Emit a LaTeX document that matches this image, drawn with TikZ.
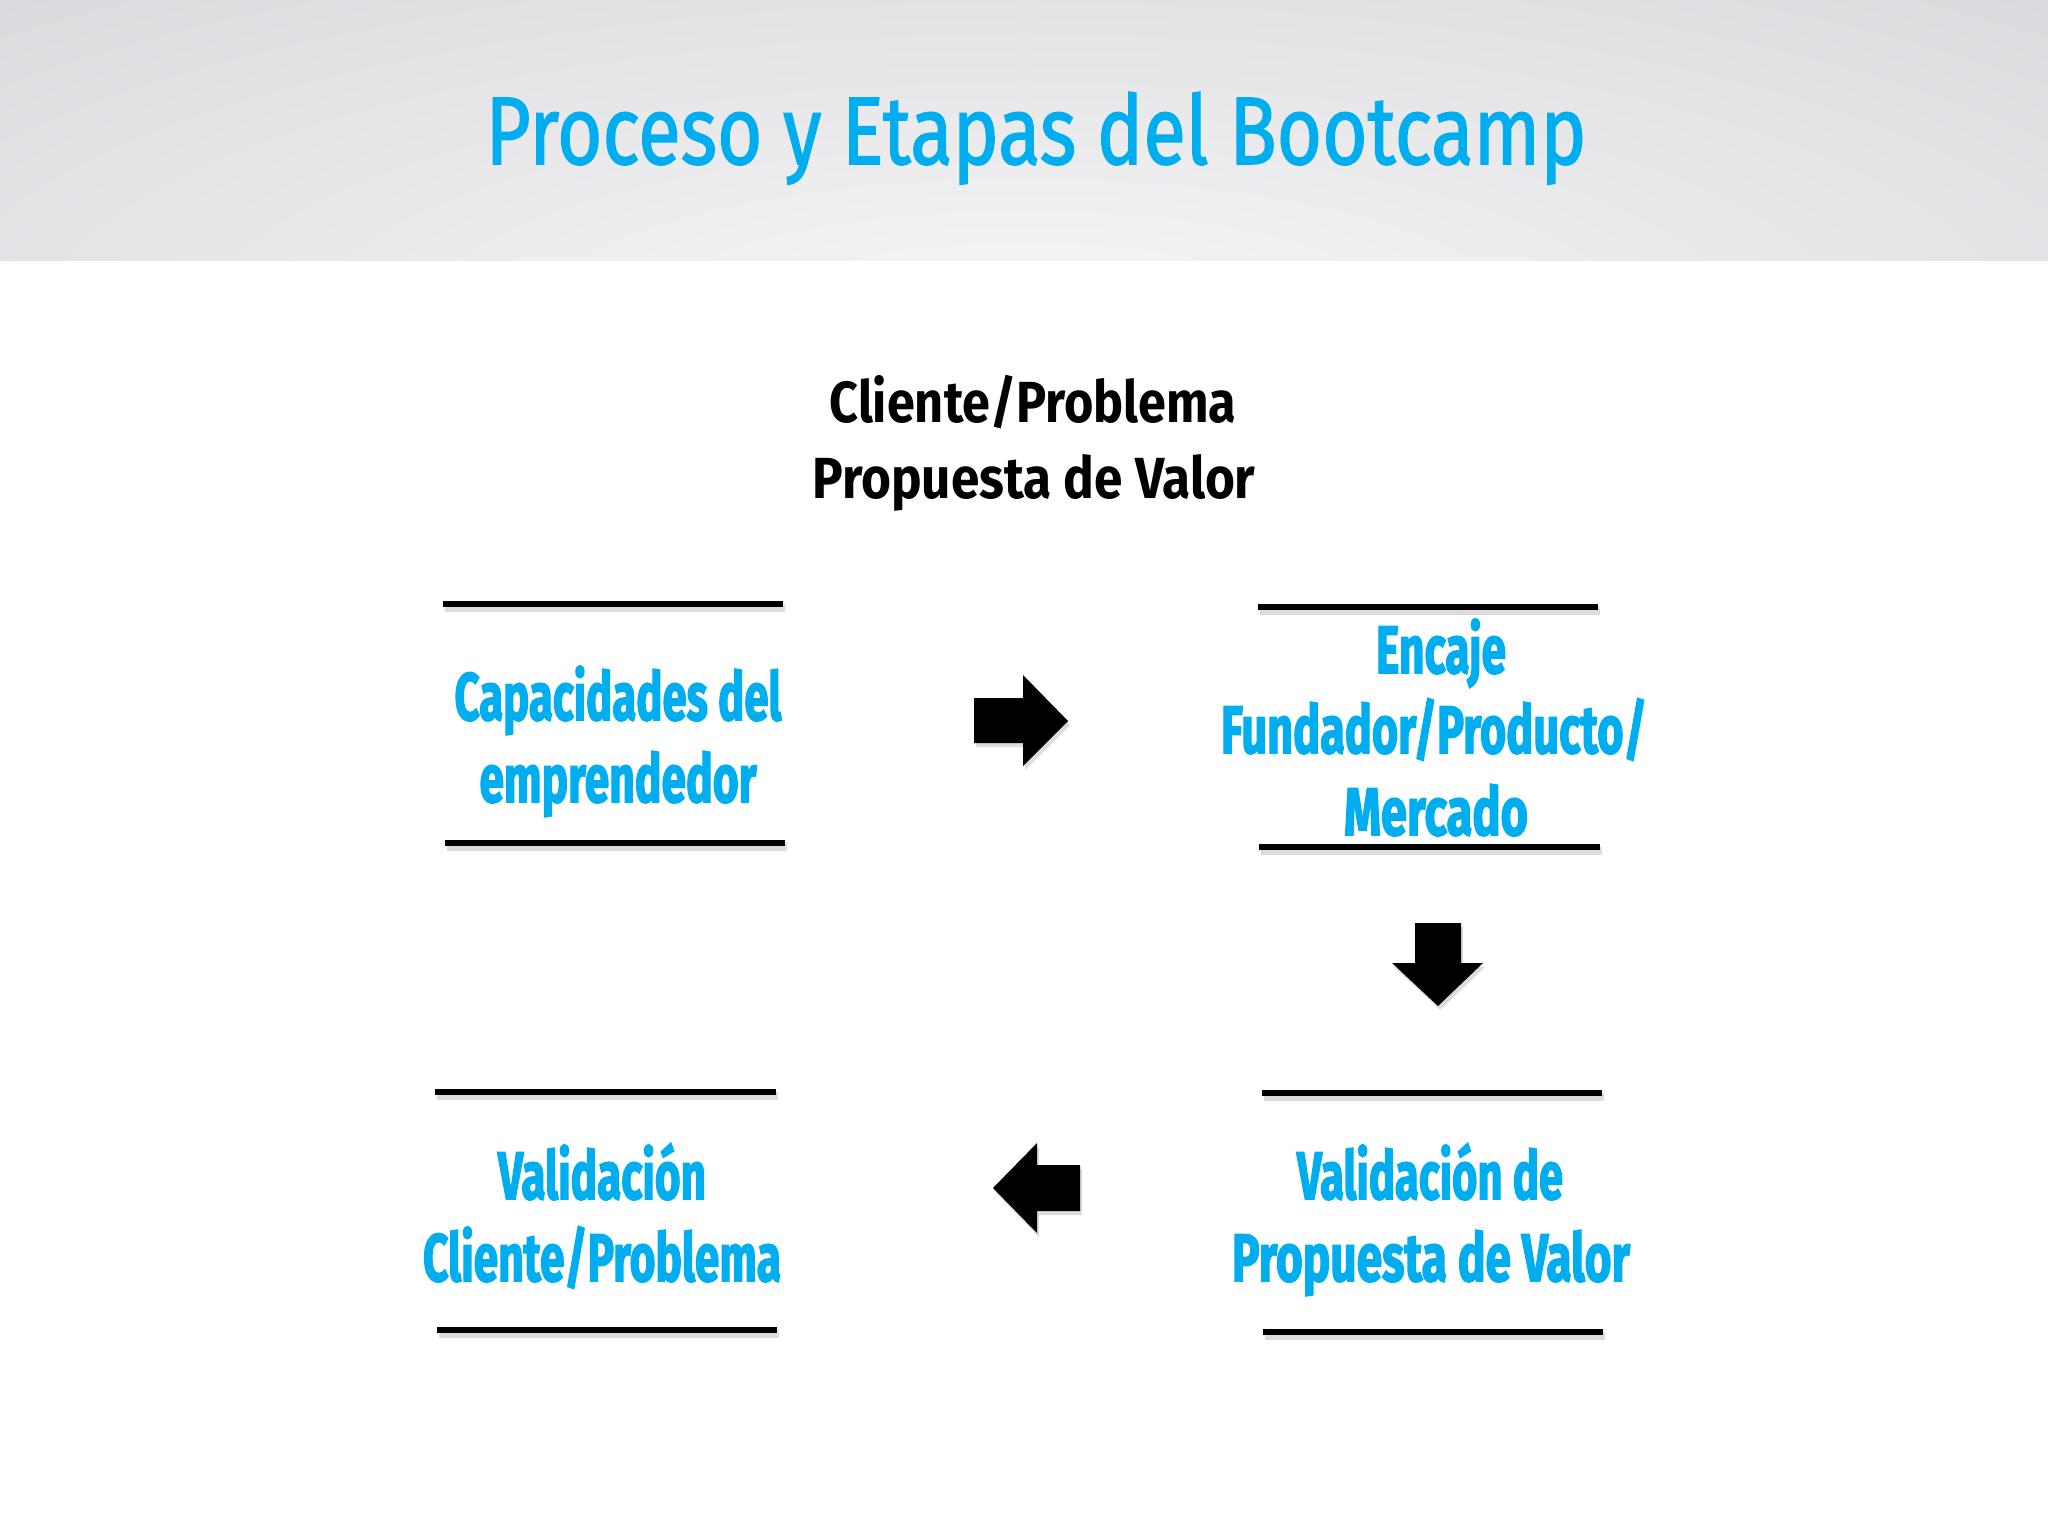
\documentclass[tikz,border=0pt]{standalone}
\usepackage{fontspec}
\usepackage{graphicx}
\setmainfont{Fira Sans}
\newfontfamily\titlefont{Fira Sans}[FakeBold=1.6]
\newfontfamily\subfont{Fira Sans}
\newfontfamily\boxfont{Fira Sans}[BoldFeatures={FakeBold=2.6}]
\definecolor{cy}{HTML}{00AEEF}
\definecolor{hdrdark}{HTML}{D9D9DD}
\definecolor{hdrlight}{HTML}{F7F7F9}
\newcommand\fitw[2]{\resizebox{#1}{\height}{#2}}
\tikzset{
  boxtxt/.style={anchor=base, inner sep=0pt, text=cy, font=\boxfont\bfseries\fontsize{67}{80}\selectfont},
  subtxt/.style={anchor=base, inner sep=0pt, text=black, font=\subfont\bfseries\fontsize{58}{70}\selectfont},
  barline/.style={line width=6pt, draw=black},
  barshadow/.style={line width=8pt, draw=black!45, opacity=0.3},
  arrowshape/.style={fill=black},
  arrowshadow/.style={fill=black!45, opacity=0.3}
}
\begin{document}
\begin{tikzpicture}[x=1pt, y=-1pt]
\useasboundingbox (0,0) rectangle (2048,1536);
\fill[white] (0,0) rectangle (2048,1536);
% header band
\begin{scope}
  \clip (0,0) rectangle (2048,260);
  \fill[hdrdark] (0,0) rectangle (2048,260);
  \shade[inner color=hdrlight, outer color=hdrdark] (1024,330) ellipse [x radius=1600pt, y radius=480pt];
\end{scope}
\node[anchor=base, inner sep=0pt, text=cy, font=\titlefont\fontsize{96}{100}\selectfont] (title) at (1036,164) {\fitw{1101pt}{Proceso y Etapas del Bootcamp}};
% subtitle
\node[subtxt] (sub1) at (1033,422) {\fitw{407pt}{Cliente/Problema}};
\node[subtxt] (sub2) at (1034,498) {\fitw{443pt}{Propuesta de Valor}};
% bars
\foreach \xa/\xb/\yy in {443/783/604, 445/785/843, 1258/1598/607, 1259/1600/847, 1262/1602/1093, 1263/1603/1332, 435/776/1092, 437/777/1330}{
  \draw[barshadow] (\xa+2,\yy+4) -- (\xb+2,\yy+4);
  \draw[barline] (\xa,\yy) -- (\xb,\yy);
}
% box texts
\node[boxtxt] (b1a) at (618,720) {\fitw{327pt}{Capacidades del}};
\node[boxtxt] (b1b) at (618,802) {\fitw{277pt}{emprendedor}};
\node[boxtxt] (b2a) at (1441,673) {\fitw{130pt}{Encaje}};
\node[boxtxt] (b2b) at (1434,753) {\fitw{426pt}{Fundador/Producto/}};
\node[boxtxt] (b2c) at (1436,835) {\fitw{184pt}{Mercado}};
\node[boxtxt] (b3a) at (1430,1199) {\fitw{266pt}{Validación de}};
\node[boxtxt] (b3b) at (1431,1281) {\fitw{398pt}{Propuesta de Valor}};
\node[boxtxt] (b4a) at (602,1199) {\fitw{208pt}{Validación}};
\node[boxtxt] (b4b) at (602,1281) {\fitw{358pt}{Cliente/Problema}};
% arrows
\begin{scope}[shift={(2,4)}]
  \fill[arrowshadow] (974,698) -- (1023,698) -- (1023,675) -- (1068,721) -- (1023,766) -- (1023,743) -- (974,743) -- cycle;
  \fill[arrowshadow] (1415,923) -- (1461,923) -- (1461,963) -- (1483,963) -- (1438,1006) -- (1392,963) -- (1415,963) -- cycle;
  \fill[arrowshadow] (1080,1165) -- (1037,1165) -- (1037,1143) -- (993,1188) -- (1037,1233) -- (1037,1211) -- (1080,1211) -- cycle;
\end{scope}
\fill[arrowshape] (974,698) -- (1023,698) -- (1023,675) -- (1068,721) -- (1023,766) -- (1023,743) -- (974,743) -- cycle;
\fill[arrowshape] (1415,923) -- (1461,923) -- (1461,963) -- (1483,963) -- (1438,1006) -- (1392,963) -- (1415,963) -- cycle;
\fill[arrowshape] (1080,1165) -- (1037,1165) -- (1037,1143) -- (993,1188) -- (1037,1233) -- (1037,1211) -- (1080,1211) -- cycle;
\end{tikzpicture}
\end{document}
